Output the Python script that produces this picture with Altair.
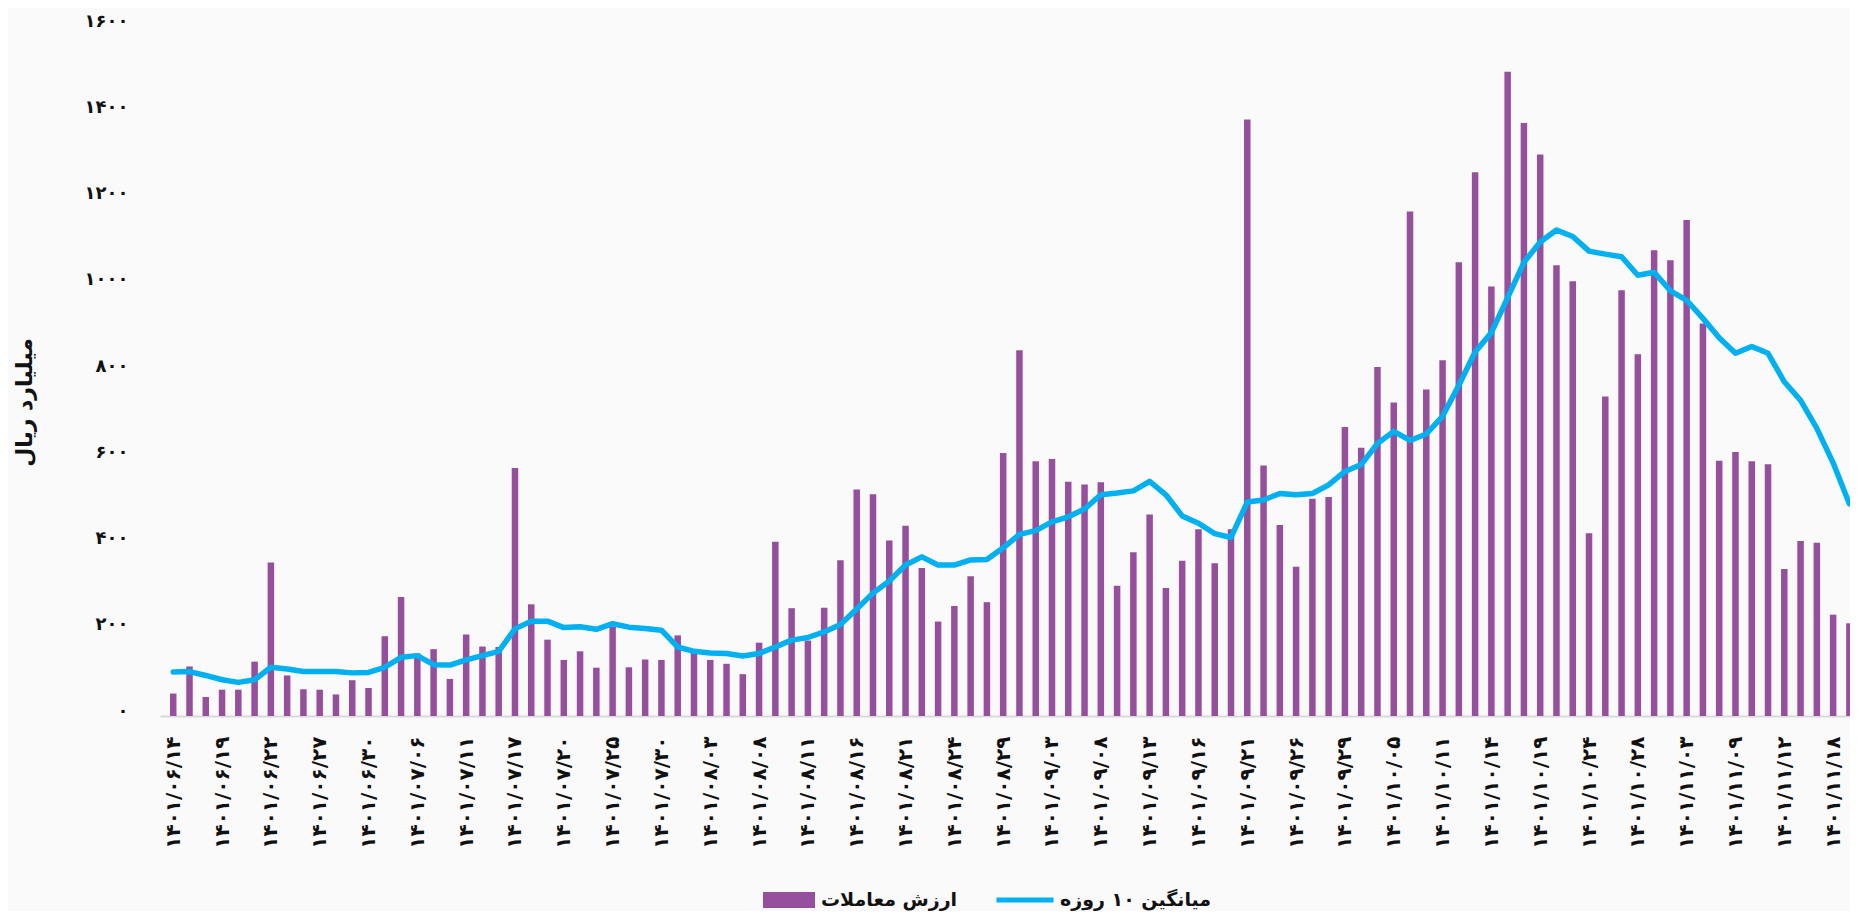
import altair as alt
import pandas as pd

# x-axis tick labels (every third trading day)
date_labels = [
    "۱۴۰۱/۰۶/۱۴", "۱۴۰۱/۰۶/۱۹", "۱۴۰۱/۰۶/۲۲", "۱۴۰۱/۰۶/۲۷", "۱۴۰۱/۰۶/۳۰",
    "۱۴۰۱/۰۷/۰۶", "۱۴۰۱/۰۷/۱۱", "۱۴۰۱/۰۷/۱۷", "۱۴۰۱/۰۷/۲۰", "۱۴۰۱/۰۷/۲۵",
    "۱۴۰۱/۰۷/۳۰", "۱۴۰۱/۰۸/۰۳", "۱۴۰۱/۰۸/۰۸", "۱۴۰۱/۰۸/۱۱", "۱۴۰۱/۰۸/۱۶",
    "۱۴۰۱/۰۸/۲۱", "۱۴۰۱/۰۸/۲۴", "۱۴۰۱/۰۸/۲۹", "۱۴۰۱/۰۹/۰۳", "۱۴۰۱/۰۹/۰۸",
    "۱۴۰۱/۰۹/۱۳", "۱۴۰۱/۰۹/۱۶", "۱۴۰۱/۰۹/۲۱", "۱۴۰۱/۰۹/۲۶", "۱۴۰۱/۰۹/۲۹",
    "۱۴۰۱/۱۰/۰۵", "۱۴۰۱/۱۰/۱۱", "۱۴۰۱/۱۰/۱۴", "۱۴۰۱/۱۰/۱۹", "۱۴۰۱/۱۰/۲۴",
    "۱۴۰۱/۱۰/۲۸", "۱۴۰۱/۱۱/۰۳", "۱۴۰۱/۱۱/۰۹", "۱۴۰۱/۱۱/۱۲", "۱۴۰۱/۱۱/۱۸",
]

# y-axis tick labels
y_labels = ["۰", "۲۰۰", "۴۰۰", "۶۰۰", "۸۰۰", "۱۰۰۰", "۱۲۰۰", "۱۴۰۰", "۱۶۰۰"]

# trading value (billion rial), one per trading day
trade_value = [
    52, 115, 44, 61, 61, 126, 356, 94, 62, 61,
    50, 83, 65, 185, 276, 145, 155, 86, 189, 161,
    160, 575, 259, 177, 130, 150, 112, 207, 113, 131,
    130, 187, 150, 130, 121, 97, 170, 404, 250, 175,
    251, 361, 525, 514, 407, 441, 343, 219, 255, 324,
    264, 610, 848, 591, 596, 543, 537, 542, 302, 380,
    467, 297, 360, 433, 354, 433, 1383, 581, 443, 346,
    504, 508, 670, 622, 809, 727, 1170, 757, 825, 1052,
    1261, 996, 1494, 1375, 1302, 1045, 1008, 424, 741, 987,
    839, 1080, 1057, 1150, 910, 592, 612, 591, 584, 341,
    406, 402, 235, 215,
]

# 10-day moving average
moving_avg = [
    102, 103, 94, 84, 78, 84, 113, 109, 103, 103,
    103, 100, 101, 113, 136, 140, 119, 118, 130, 140,
    150, 202, 220, 220, 205, 207, 201, 214, 206, 203,
    199, 160, 150, 146, 145, 139, 145, 160, 176, 182,
    195, 212, 248, 285, 313, 350, 369, 350, 350, 362,
    363, 390, 421, 430, 450, 462, 480, 513, 517, 522,
    544, 513, 464, 447, 423, 414, 496, 501, 516, 513,
    516, 536, 567, 583, 632, 660, 639, 654, 695, 767,
    844, 889, 970, 1052, 1099, 1127, 1112, 1078, 1071, 1065,
    1022, 1029, 986, 964, 922, 877, 841, 857, 841, 775,
    732, 667, 587, 492,
]

bar_name = "ارزش معاملات"
line_name = "میانگین ۱۰ روزه"

df = pd.DataFrame({
    "idx": list(range(1, len(trade_value) + 1)),
    "value": trade_value,
    "ma": moving_avg,
    "s_bar": bar_name,
    "s_line": line_name,
})

FONT = "DejaVu Sans"
PURPLE = "#964f9c"
BLUE = "#00b0f0"
INK = "#111111"

date_js = "[" + ",".join("'" + d + "'" for d in date_labels) + "]"
y_js = "[" + ",".join("'" + d + "'" for d in y_labels) + "]"

x_enc = alt.X(
    "idx:Q",
    scale=alt.Scale(domain=[0.494, 103.73], nice=False, zero=False),
    axis=alt.Axis(
        values=list(range(1, 104, 3)),
        labelExpr=date_js + "[round((datum.value - 1) / 3)]",
        labelAngle=270,
        labelPadding=20,
        labelFont=FONT,
        labelFontSize=20,
        labelFontWeight="bold",
        labelColor=INK,
        labelOverlap=False,
        labelFlush=False,
        ticks=False,
        grid=False,
        domainColor="#d9d9d9",
        domainWidth=2,
        title=None,
    ),
)

y_axis = alt.Axis(
    values=[0, 200, 400, 600, 800, 1000, 1200, 1400, 1600],
    labelExpr=y_js + "[round(datum.value / 200)]",
    labelPadding=32,
    labelOffset=-5,
    labelFont=FONT,
    labelFontSize=18,
    labelFontWeight="bold",
    labelColor=INK,
    ticks=False,
    domain=False,
    grid=False,
    title="میلیارد ریال",
    titleFont=FONT,
    titleFontSize=22,
    titleFontWeight="bold",
    titleColor=INK,
    titleAngle=270,
    titleX=-136,
    titleY=376,
    titleAlign="center",
    titleBaseline="middle",
)

bars = alt.Chart(df).mark_bar(width=6.5, clip=True).encode(
    x=x_enc,
    y=alt.Y("value:Q", scale=alt.Scale(domain=[0, 1600], nice=False), axis=y_axis),
    fill=alt.Fill(
        "s_bar:N",
        scale=alt.Scale(domain=[bar_name], range=[PURPLE]),
        legend=alt.Legend(
            title=None,
            orient="none",
            legendX=603,
            legendY=848,
            symbolType="M-1,-0.3077H1V0.3077H-1Z",
            symbolSize=2704,
            symbolStrokeWidth=0,
            labelFont=FONT,
            labelFontSize=19,
            labelFontWeight="bold",
            labelColor=INK,
            labelOffset=6,
            padding=0,
        ),
    ),
)

line = alt.Chart(df).mark_line(
    strokeWidth=5.5, clip=True, strokeJoin="round", strokeCap="round"
).encode(
    x=x_enc,
    y=alt.Y("ma:Q", scale=alt.Scale(domain=[0, 1600], nice=False)),
    stroke=alt.Stroke(
        "s_line:N",
        scale=alt.Scale(domain=[line_name], range=[BLUE]),
        legend=alt.Legend(
            title=None,
            orient="none",
            legendX=834,
            legendY=843,
            symbolType="stroke",
            symbolSize=3249,
            symbolStrokeWidth=5,
            labelFont=FONT,
            labelFontSize=19,
            labelFontWeight="bold",
            labelColor=INK,
            labelOffset=4,
            padding=0,
        ),
    ),
)

chart = alt.layer(bars, line).resolve_scale(fill="independent", stroke="independent").properties(
    width=1690,
    height=690,
    autosize=alt.AutoSizeParams(type="none"),
    padding={"left": 152, "top": 18, "right": 0, "bottom": 195},
    background="#fafafa",
).configure_view(stroke=None)

chart.save("out.html", embed_options={"renderer": "svg", "actions": False})
